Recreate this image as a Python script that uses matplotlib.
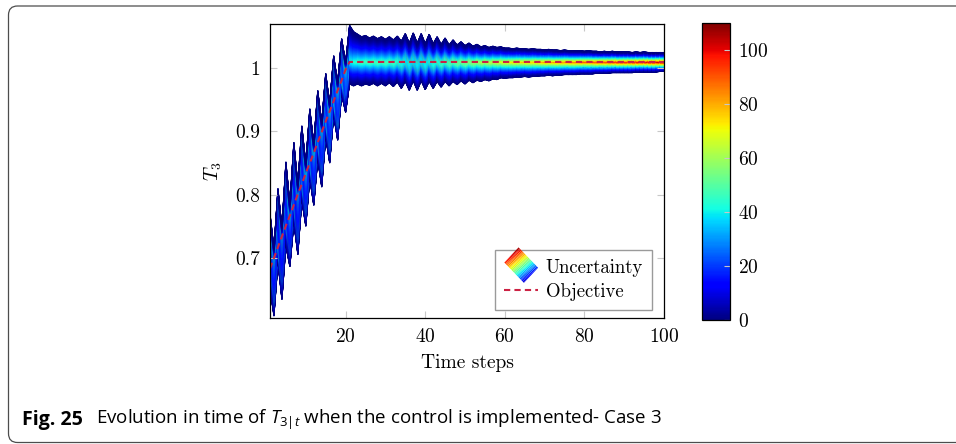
import numpy as np
import matplotlib
matplotlib.use("Agg")
import matplotlib.pyplot as plt
from matplotlib.patches import FancyBboxPatch
from matplotlib.collections import PolyCollection
from matplotlib.legend_handler import HandlerBase
from matplotlib.transforms import IdentityTransform

plt.rcParams['font.family'] = 'cmr10'
plt.rcParams['mathtext.fontset'] = 'cm'
plt.rcParams['axes.formatter.use_mathtext'] = True
plt.rcParams['mathtext.rm'] = 'Open Sans'
plt.rcParams['mathtext.it'] = 'Open Sans:italic'

# time steps 1..100
steps = np.arange(1, 101)

# objective trajectory (red dashed)
objective = [0.683, 0.700, 0.717, 0.734, 0.751, 0.767, 0.784, 0.801, 0.817, 0.834,
             0.850, 0.866, 0.883, 0.899, 0.916, 0.932, 0.948, 0.965, 0.981, 0.998] + [1.010] * 80

# upper / lower edge of the uncertainty band
upper = [0.771, 0.716, 0.810, 0.750, 0.852, 0.786, 0.883, 0.817, 0.909, 0.850,
         0.936, 0.882, 0.965, 0.915, 0.992, 0.945, 1.020, 0.978, 1.047, 1.010,
         1.068, 1.058, 1.054, 1.050, 1.052, 1.048, 1.051, 1.047, 1.050, 1.046,
         1.050, 1.045, 1.051, 1.043, 1.055, 1.040, 1.056, 1.040, 1.055, 1.039,
         1.054, 1.039, 1.050, 1.038, 1.048, 1.037, 1.045, 1.037, 1.042, 1.036,
         1.040, 1.035, 1.038, 1.034, 1.036, 1.033, 1.035, 1.033, 1.034, 1.032,
         1.032, 1.031, 1.032, 1.031, 1.031, 1.030, 1.031, 1.030, 1.030, 1.029,
         1.030, 1.029, 1.029, 1.028, 1.029, 1.028, 1.028, 1.028, 1.028, 1.027,
         1.028, 1.027, 1.027, 1.026, 1.027, 1.026, 1.027, 1.026, 1.026, 1.026,
         1.026, 1.025, 1.026, 1.025, 1.026, 1.025, 1.025, 1.025, 1.025, 1.025]
lower = [0.650, 0.608, 0.692, 0.634, 0.718, 0.686, 0.755, 0.705, 0.790, 0.750,
         0.825, 0.783, 0.855, 0.812, 0.890, 0.850, 0.925, 0.886, 0.958, 0.930,
         0.975, 0.972, 0.975, 0.972, 0.975, 0.973, 0.976, 0.972, 0.976, 0.972,
         0.977, 0.971, 0.978, 0.968, 0.979, 0.965, 0.980, 0.965, 0.980, 0.966,
         0.979, 0.968, 0.979, 0.970, 0.979, 0.972, 0.979, 0.974, 0.980, 0.975,
         0.981, 0.977, 0.981, 0.979, 0.982, 0.980, 0.983, 0.982, 0.985, 0.984,
         0.985, 0.985, 0.986, 0.986, 0.987, 0.986, 0.987, 0.987, 0.988, 0.988,
         0.989, 0.988, 0.989, 0.989, 0.990, 0.990, 0.990, 0.990, 0.991, 0.991,
         0.991, 0.991, 0.992, 0.992, 0.992, 0.992, 0.993, 0.993, 0.993, 0.993,
         0.993, 0.993, 0.994, 0.994, 0.994, 0.994, 0.994, 0.994, 0.995, 0.995]

obj = np.array(objective)
upper = np.array(upper)
lower = np.array(lower)

# density inside the band: peaked on the objective, falling to zero at the edges,
# brighter when the band is narrow
s = np.linspace(0, 1, 121)
half = (upper - lower) / 2
X = np.repeat(steps[:, None], len(s), axis=1)
Y = lower[:, None] + (upper - lower)[:, None] * s[None, :]
d = Y - obj[:, None]
rel = np.where(d > 0, d / (upper - obj)[:, None], -d / (obj - lower)[:, None])
C = 3.6 / half[:, None] ** 0.8 * np.clip(1 - rel, 0, 1) ** 1.6


class SurfHandler(HandlerBase):
    def create_artists(self, legend, orig_handle, xdescent, ydescent, width, height, fontsize, trans):
        x0 = -xdescent
        cy = height / 2 - ydescent + 1
        ry = height * 1.35
        left = np.array([x0, cy + 0.15 * ry])
        top = np.array([x0 + 0.42 * width, cy + ry])
        bot = np.array([x0 + 0.58 * width, cy - ry])
        n = 14
        polys, cols = [], []
        p = lambda u, v: left + u * (top - left) + v * (bot - left)
        for i in range(n):
            for j in range(n):
                u0, u1, v0, v1 = i / n, (i + 1) / n, j / n, (j + 1) / n
                polys.append([p(u0, v0), p(u1, v0), p(u1, v1), p(u0, v1)])
                cols.append(plt.cm.jet(0.95 - 0.85 * (v0 + 0.5 / n) + 0.1 * (u0 - 0.5)))
        pc = PolyCollection(polys, facecolors=cols, edgecolors='none', transform=trans)
        return [pc]


fig = plt.figure(figsize=(9.56, 4.44), dpi=100)
ax = fig.add_axes([0.2824, 0.2838, 0.4122, 0.6621])
cax = fig.add_axes([0.7343, 0.2793, 0.0293, 0.6689])

mesh = ax.pcolormesh(X, Y, C, shading='gouraud', cmap='jet', vmin=0, vmax=110, rasterized=True)
line, = ax.plot(steps, objective, color='#cc2244', lw=1.5, ls=(0, (3, 2)))

ax.set_xlim(1, 100)
ax.set_ylim(0.605, 1.07)
ax.set_xticks([20, 40, 60, 80, 100])
ax.set_yticks([0.7, 0.8, 0.9, 1.0])
ax.set_yticklabels(['0.7', '0.8', '0.9', '1'])
ax.tick_params(direction='in', color='#c8c8c8', length=5, top=True, right=True,
               labelsize=14, pad=7)
for sp in ax.spines.values():
    sp.set_linewidth(0.9)
ax.set_xlabel('Time steps', fontsize=14, labelpad=6)
ax.set_ylabel('$T_3$', fontsize=14, labelpad=8)

ax.legend([mesh, line], ['Uncertainty', 'Objective'], handler_map={type(mesh): SurfHandler()},
          loc='lower right', bbox_to_anchor=(0.97, 0.027), borderaxespad=0, fontsize=13.5,
          fancybox=False, edgecolor='#9a9a9a', framealpha=1, handlelength=1.8,
          handletextpad=0.4, borderpad=0.5, labelspacing=0.3)

cb = fig.colorbar(mesh, cax=cax, ticks=[0, 20, 40, 60, 80, 100])
cb.ax.tick_params(direction='in', color='#c8c8c8', length=4, labelsize=14, pad=6)
cb.outline.set_linewidth(0.9)

# figure frame with rounded corners
frame = FancyBboxPatch((8.5, 1.5), 1000, 436.5, boxstyle='round,pad=0,rounding_size=9',
                       transform=IdentityTransform(), fill=False, edgecolor='#4d4d4d', lw=0.9)
fig.patches.append(frame)

fig_lbl = fig.text(22 / 956, 1 - 420 / 444, 'Fig. 25', fontsize=11, family='Open Sans',
                   weight='bold', va='center', ha='left')
cap = fig.text(96 / 956, 1 - 420 / 444,
               'Evolution in time of $T_{3|t}$ when the control is implemented- Case 3',
               fontsize=11, family='Open Sans', va='center', ha='left', math_fontfamily='custom')
fig.canvas.draw()
cap.set_fontsize(11 * 564 / cap.get_window_extent().width)
fig_lbl.set_fontsize(11 * 61 / fig_lbl.get_window_extent().width)

fig.savefig('out.png', dpi=100)
